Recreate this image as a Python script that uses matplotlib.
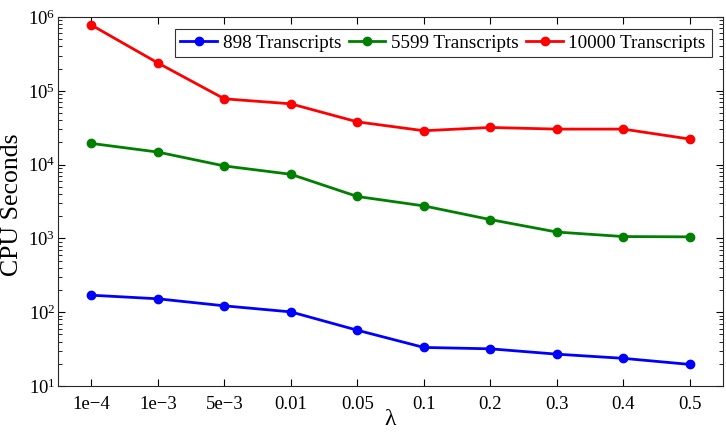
import matplotlib
matplotlib.use("Agg")
import matplotlib.pyplot as plt
import numpy as np

# Data
lambda_labels = ["1e\u22124", "1e\u22123", "5e\u22123", "0.01", "0.05",
                 "0.1", "0.2", "0.3", "0.4", "0.5"]
cpu_898 = [170, 152, 122, 101, 57, 33.3, 31.9, 27, 23.7, 19.6]
cpu_5599 = [19400, 14800, 9600, 7400, 3700, 2760, 1800, 1220, 1060, 1050]
cpu_10000 = [780000, 239000, 78000, 66700, 38000, 28800, 31900, 30300, 30300, 22200]

plt.rcParams['font.family'] = ['Liberation Serif', 'DejaVu Serif']
plt.rcParams['mathtext.fontset'] = 'stix'

fig = plt.figure(figsize=(7.26, 4.32), dpi=100)
ax = fig.add_axes([0.08, 0.1065, 0.916, 0.854])

x = np.arange(len(lambda_labels))
# Plot each series:
ax.plot(x, cpu_898, '-o', color=(0, 0, 1), lw=2, ms=6, label='898 Transcripts')
ax.plot(x, cpu_5599, '-o', color=(0, 0.5, 0), lw=2, ms=6, label='5599 Transcripts')
ax.plot(x, cpu_10000, '-o', color=(1, 0, 0), lw=2, ms=6, label='10000 Transcripts')

ax.set_yscale('log')
ax.set_ylim(10, 1e6)
ax.set_xlim(-0.5, 9.5)
ax.set_xticks(x)
ax.set_xticklabels(lambda_labels)

# MATLAB-style inward ticks on all sides
ax.tick_params(which='both', direction='in', top=True, right=True, labelsize=13.5)
ax.tick_params(which='major', length=5)
ax.tick_params(which='minor', length=3)
ax.tick_params(axis='x', which='major', pad=7)
ax.tick_params(axis='y', which='major', pad=2)
for sp in ax.spines.values():
    sp.set_linewidth(0.8)
    sp.set_color('#262626')

ax.set_xlabel('\u03bb', fontsize=17, labelpad=-3)
ax.set_ylabel('CPU Seconds', fontsize=18.5)
ax.yaxis.set_label_coords(-0.053, 0.49)

leg = ax.legend(loc='upper right', ncol=3, fontsize=13.8, frameon=True, fancybox=False,
                handlelength=1.9, handletextpad=0.3, columnspacing=0.4,
                borderpad=0.3, borderaxespad=0.6)
leg.get_frame().set_edgecolor('black')
leg.get_frame().set_linewidth(0.8)

fig.savefig('out.png', dpi=100)
